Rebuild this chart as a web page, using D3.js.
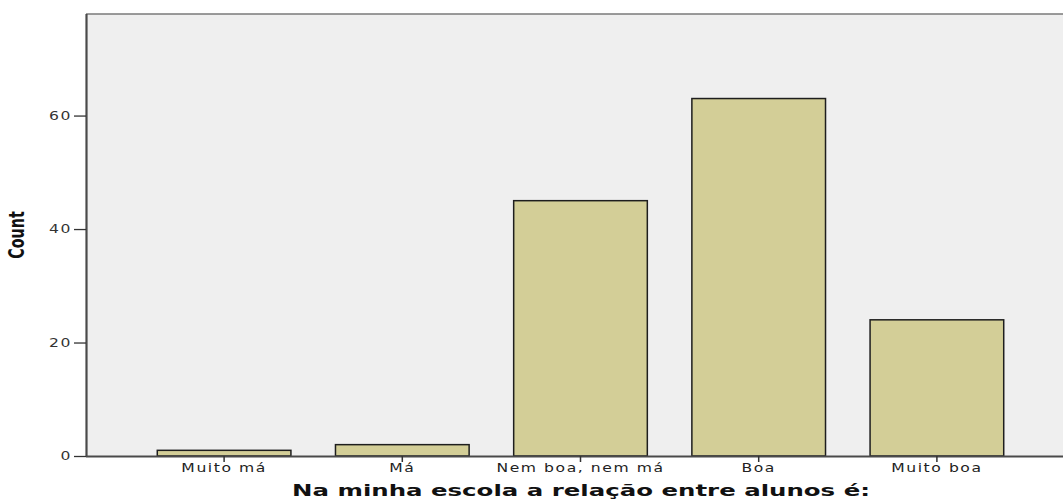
<!DOCTYPE html>
<html>
<head>
<meta charset="utf-8">
<script src="https://cdn.jsdelivr.net/npm/d3@7"></script>
<style>
  html, body { margin: 0; padding: 0; background: #ffffff; }
  svg { display: block; }
</style>
</head>
<body>
<svg id="chart" width="1063" height="499"></svg>
<script>
const categories = ["Muito má", "Má", "Nem boa, nem má", "Boa", "Muito boa"];
const counts = [1, 2, 45, 63, 24];
const yTicks = [0, 20, 40, 60];
const xTitle = "Na minha escola a relação entre alunos é:";
const yTitle = "Count";

const W = 1063, H = 499;
const m = { left: 86, top: 14, right: -12, bottom: 43 };
const svg = d3.select("#chart");

const x = d3.scaleBand()
  .domain(categories)
  .range([m.left, W - m.right])
  .paddingInner(0.25)
  .paddingOuter(0.4);

const y = d3.scaleLinear()
  .domain([0, 77.9])
  .range([H - m.bottom, m.top]);

// plot background
svg.append("rect")
  .attr("x", m.left).attr("y", m.top)
  .attr("width", W - m.left + 20).attr("height", y(0) - m.top)
  .attr("fill", "#efefef");

// top frame line
svg.append("line")
  .attr("x1", m.left).attr("x2", W + 20)
  .attr("y1", m.top).attr("y2", m.top)
  .attr("stroke", "#7a7a7a").attr("stroke-width", 1.5);

// bars
svg.append("g").selectAll("rect")
  .data(categories.map((c, i) => ({ c, v: counts[i] })))
  .join("rect")
  .attr("x", d => x(d.c))
  .attr("y", d => y(d.v))
  .attr("width", x.bandwidth())
  .attr("height", d => y(0) - y(d.v))
  .attr("fill", "#d3ce97")
  .attr("stroke", "#1e1e1e")
  .attr("stroke-width", 1.5);

const tickFont = "'DejaVu Sans', Verdana, sans-serif";

// y axis
const yAxis = svg.append("g")
  .attr("transform", `translate(${m.left},0)`)
  .call(d3.axisLeft(y).tickValues(yTicks).tickSize(12).tickPadding(2).tickFormat(d3.format("d")));
yAxis.select(".domain").attr("stroke", "#4a4a4a").attr("stroke-width", 2.2)
  .attr("d", `M0.5,${m.top}V${y(0)}`);
yAxis.selectAll(".tick line").attr("stroke", "#333").attr("stroke-width", 1.3).attr("x2", -12);
yAxis.selectAll(".tick text")
  .attr("font-family", tickFont).attr("font-size", 12).attr("fill", "#333")
  .attr("letter-spacing", 1.2)
  .each(function() {
    const t = d3.select(this);
    const tx = +t.attr("x");
    t.attr("x", null).attr("transform", `translate(${tx},0) scale(1.3,1)`);
  });

// x axis
const xAxis = svg.append("g")
  .attr("transform", `translate(0,${y(0)})`)
  .call(d3.axisBottom(x).tickSize(6).tickPadding(2).tickSizeOuter(0));
xAxis.select(".domain").attr("stroke", "#4a4a4a").attr("stroke-width", 2.2)
  .attr("d", `M${m.left},0.5H${W + 20}`);
xAxis.selectAll(".tick line").attr("stroke", "#333").attr("stroke-width", 1.5);
xAxis.selectAll(".tick text")
  .attr("font-family", tickFont).attr("font-size", 12).attr("fill", "#222")
  .attr("letter-spacing", 1.2)
  .each(function() {
    const t = d3.select(this);
    const ty = +t.attr("y");
    t.attr("y", null).attr("dy", "0.71em").attr("transform", `translate(0,${ty - 1}) scale(1.3,1)`);
  });

// x title
svg.append("text")
  .attr("x", 292).attr("y", 496)
  .attr("font-family", "'DejaVu Sans', Verdana, sans-serif")
  .attr("font-weight", "bold").attr("font-size", 16).attr("fill", "#111")
  .attr("textLength", 578).attr("lengthAdjust", "spacingAndGlyphs")
  .text(xTitle);

// y title (condensed)
svg.append("text")
  .attr("transform", "translate(24,235) rotate(-90) scale(0.76,1)")
  .attr("text-anchor", "middle")
  .attr("font-family", "'Liberation Sans Narrow', 'DejaVu Sans Condensed', sans-serif")
  .attr("font-weight", "bold").attr("font-size", 21).attr("fill", "#111")
  .text(yTitle);
</script>
</body>
</html>
